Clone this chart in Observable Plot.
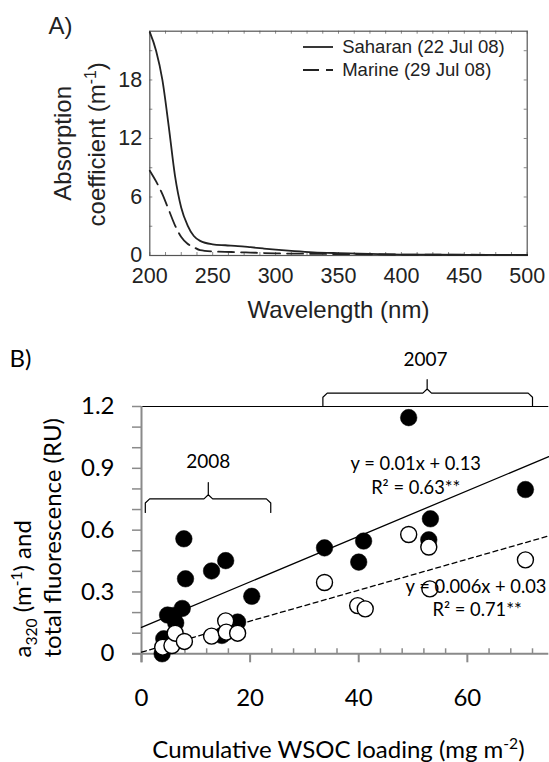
<!DOCTYPE html>
<html><head><meta charset="utf-8">
<script src="https://cdn.jsdelivr.net/npm/d3@7"></script>
<script src="https://cdn.jsdelivr.net/npm/@observablehq/plot@0.6"></script>
<style>
html,body{margin:0;padding:0;background:#fff;}
#chart{width:549px;height:762px;position:relative;overflow:hidden;background:#fff;}
#chart svg{display:block;max-width:none;}
</style></head><body><div id="chart"></div>
<script>
// ---------- Panel A data ----------
const wavelengthSah = [200,205,210,215,220,225,230,235,240,250,260,270,280,290,300,315,330,350,375,400,450,500];
const saharan       = [22.9,21.0,18.0,13.3,8.2,4.9,3.1,2.0,1.5,1.15,1.05,0.97,0.85,0.72,0.6,0.45,0.33,0.24,0.16,0.1,0.07,0.05];
const wavelengthMar = [200,205,210,215,220,225,230,235,240,250,265,280,300,325,350,400,450,500];
const marine        = [8.7,7.6,6.3,4.7,3.1,1.9,1.2,0.85,0.55,0.42,0.36,0.3,0.22,0.18,0.15,0.1,0.08,0.06];
const xTicksA = [200,250,300,350,400,450,500];
const yTicksA = [0,6,12,18];
const legendLabels = ["Saharan (22 Jul 08)", "Marine (29 Jul 08)"];

// ---------- Panel B data ----------
const wsocFilled = [3.8,4.1,4.8,5.9,6.3,7.5,7.8,8.1,12.9,14.8,15.5,17.7,20.3,33.7,40.0,40.9,49.2,52.9,53.2,70.7];
const a320       = [0.0,0.073,0.188,0.186,0.15,0.22,0.558,0.364,0.402,0.089,0.452,0.154,0.279,0.514,0.445,0.547,1.146,0.553,0.655,0.797];
const wsocOpen   = [3.9,5.6,6.2,7.9,12.9,15.5,15.6,17.7,33.7,39.8,41.2,49.2,52.9,53.1,70.7];
const fluor      = [0.032,0.04,0.1,0.06,0.086,0.16,0.105,0.1,0.346,0.234,0.218,0.579,0.518,0.315,0.456];
const fitSolidX = [0, 75], fitSolidY = [0.128, 0.957];
const fitDashX  = [0, 75], fitDashY  = [0.008, 0.572];
const xTicksB = [0,20,40,60];
const yTicksB = [0,0.3,0.6,0.9,1.2];
const yTickLabelsB = ["0","0.3","0.6","0.9","1.2"];
const years = [{x:12.3, y:0.93, t:"2008"}, {x:52.3, y:1.427, t:"2007"}];
const brace2008 = {x0:0.7, x1:23.8, xm:12.3, y:0.752, yEnd:0.686, yTip:0.831};
const brace2007 = {x0:33.4, x1:72.0, xm:52.6, y:1.265, yEnd:1.2, yTip:1.33};
const equations = [
  {x:50.5, y:0.922, t:"y = 0.01x + 0.13"},
  {x:50.5, y:0.802, t:"R² = 0.63**"},
  {x:61.6, y:0.323, t:"y = 0.006x + 0.03"},
  {x:61.8, y:0.21,  t:"R² = 0.71**"}
];

// ---------- helpers ----------
function rich(svg, key, parts, fs) {
  svg.querySelectorAll("text").forEach(t => {
    if (t.textContent !== key) return;
    t.textContent = "";
    let cur = 0;
    for (const [s, m] of parts) {
      const ts = document.createElementNS("http://www.w3.org/2000/svg", "tspan");
      const off = m === 1 ? -0.38 * fs : m === -1 ? 0.24 * fs : 0;
      ts.setAttribute("dy", (off - cur).toFixed(2));
      cur = off;
      if (m) ts.setAttribute("font-size", (0.65 * fs).toFixed(1));
      ts.textContent = s;
      t.appendChild(ts);
    }
  });
}
function bracePts(b, rx, ry) {
  return [[b.x0,b.yEnd],[b.x0,b.y-ry],[b.x0+rx,b.y],[b.xm-rx,b.y],[b.xm,b.y+ry],[b.xm,b.yTip],
          [b.xm,b.y+ry],[b.xm+rx,b.y],[b.x1-rx,b.y],[b.x1,b.y-ry],[b.x1,b.yEnd]];
}

const W = 549, hA = 325, hB = 437;
const fA = "'Liberation Sans', Arial, sans-serif";
const fB = "Lato, 'Open Sans', sans-serif";

// ---------- Panel A ----------
const mA = {l:149.3, r:22.3, t:30.7, b:70};
const pwA = W - mA.l - mA.r, phA = hA - mA.t - mA.b;
const sahData = wavelengthSah.map((w, i) => ({w, a: saharan[i]}));
const marData = wavelengthMar.map((w, i) => ({w, a: marine[i]}));
const xMinorA = d3.range(200, 500.1, 12.5);
const yMinorA = d3.range(0, 23, 3);
const txtA = {fontFamily: fA, fill: "#222", textAnchor: "middle", lineAnchor: "middle"};

const plotA = Plot.plot({
  width: W, height: hA,
  marginLeft: mA.l, marginRight: mA.r, marginTop: mA.t, marginBottom: mA.b,
  x: {domain: [200, 500], axis: null},
  y: {domain: [0, 23], axis: null},
  style: {fontFamily: fA, background: "white", overflow: "visible"},
  marks: [
    Plot.tickX(xMinorA, {x: d => d, stroke: "#888", insetTop: phA - 3}),
    Plot.tickX(xMinorA, {x: d => d, stroke: "#888", insetBottom: phA - 3}),
    Plot.tickY(yMinorA, {y: d => d, stroke: "#888", insetRight: pwA - 3}),
    Plot.tickY(yMinorA, {y: d => d, stroke: "#888", insetLeft: pwA - 3}),
    Plot.frame({stroke: "#555", strokeWidth: 1.2}),
    Plot.line(marData, {x: "w", y: "a", stroke: "#222", strokeWidth: 1.8, strokeDasharray: "16,7", curve: "monotone-x"}),
    Plot.line(sahData, {x: "w", y: "a", stroke: "#222", strokeWidth: 1.8, curve: "monotone-x"}),
    Plot.text(xTicksA, {...txtA, x: d => d, frameAnchor: "bottom", dy: 20.5, text: d => String(d), fontSize: 21.5}),
    Plot.text(yTicksA, {...txtA, y: d => d, frameAnchor: "left", dx: -7.6, textAnchor: "end", text: d => String(d), fontSize: 21.5}),
    Plot.text(["Wavelength (nm)"], {...txtA, frameAnchor: "bottom", dy: 55, text: d => d, fontSize: 24}),
    Plot.text(["Absorption"], {...txtA, frameAnchor: "left", dx: -86.3, rotate: -90, text: d => d, fontSize: 24}),
    Plot.text(["coefficient (m-1)"], {...txtA, frameAnchor: "left", dx: -52.3, dy: 1, rotate: -90, text: d => d, fontSize: 24}),
    Plot.text(["A)"], {...txtA, frameAnchor: "top-left", dx: -89.3, dy: -4.7, text: d => d, fontSize: 24}),
    Plot.text([legendLabels[0]], {...txtA, frameAnchor: "top-left", dx: 192.4, dy: 16.3, textAnchor: "start", text: d => d, fontSize: 18.5}),
    Plot.text([legendLabels[1]], {...txtA, frameAnchor: "top-left", dx: 192.4, dy: 39.3, textAnchor: "start", text: d => d, fontSize: 18.5})
  ]
});
rich(plotA, "coefficient (m-1)", [["coefficient (m",0],["-1",1],[")",0]], 24);
// legend sample lines (layout, relative to frame)
{
  const g = d3.select(plotA).append("g");
  [[16.3, null], [39.3, "16,7"]].forEach(([dy, dash]) => {
    const y = mA.t + dy;
    const l = g.append("line").attr("x1", mA.l + 153.7).attr("x2", mA.l + 183.7)
      .attr("y1", y).attr("y2", y).attr("stroke", "#222").attr("stroke-width", 1.8);
    if (dash) l.attr("stroke-dasharray", dash);
  });
}

// ---------- Panel B ----------
const mB = {l:141, r:0.7, t:81, b:108.7};
const pwB = W - mB.l - mB.r, phB = hB - mB.t - mB.b;
const filled = wsocFilled.map((x, i) => ({x, y: a320[i]}));
const open = wsocOpen.map((x, i) => ({x, y: fluor[i]}));
const solid = fitSolidX.map((x, i) => ({x, y: fitSolidY[i]}));
const dashed = fitDashX.map((x, i) => ({x, y: fitDashY[i]}));
const yMinorB = d3.range(0, 1.2001, 0.1);
const xMinorB = d3.range(4, 75, 4).filter(v => v % 20 !== 0);
const b08 = bracePts(brace2008, 0.8, 0.02).map(([x, y]) => ({x, y}));
const b07 = bracePts(brace2007, 0.8, 0.02).map(([x, y]) => ({x, y}));
const txtB = {fontFamily: fB, fill: "#000", textAnchor: "middle", lineAnchor: "middle"};
const gray = "#8a8a8a";

const plotB = Plot.plot({
  width: W, height: hB,
  marginLeft: mB.l, marginRight: mB.r, marginTop: mB.t, marginBottom: mB.b,
  x: {domain: [0, 75], axis: null},
  y: {domain: [0, 1.2], axis: null},
  style: {fontFamily: fB, background: "white", overflow: "visible"},
  marks: [
    Plot.ruleY([1.2], {stroke: "#000", strokeWidth: 1, insetLeft: -9}),
    Plot.tickY(yMinorB, {y: d => d, stroke: gray, strokeWidth: 1.5, insetLeft: -9, insetRight: pwB}),
    Plot.tickX(xMinorB, {x: d => d, stroke: gray, strokeWidth: 1.5, insetTop: phB - 5}),
    Plot.tickX(xTicksB, {x: d => d, stroke: gray, strokeWidth: 2, insetTop: phB, insetBottom: -9}),
    Plot.ruleX([0], {stroke: gray, strokeWidth: 2, insetBottom: -9}),
    Plot.ruleY([0], {stroke: gray, strokeWidth: 2, insetLeft: -9}),
    Plot.line(solid, {x: "x", y: "y", stroke: "#000", strokeWidth: 1.3}),
    Plot.line(dashed, {x: "x", y: "y", stroke: "#000", strokeWidth: 1.3, strokeDasharray: "5,3.5"}),
    Plot.dot(filled, {x: "x", y: "y", r: 8.3, fill: "#000", stroke: "#000", strokeWidth: 0.5}),
    Plot.dot(open, {x: "x", y: "y", r: 8, fill: "#fff", stroke: "#000", strokeWidth: 1.4}),
    Plot.line(b08, {x: "x", y: "y", stroke: "#000", strokeWidth: 1.2}),
    Plot.line(b07, {x: "x", y: "y", stroke: "#000", strokeWidth: 1.2}),
    Plot.text(years, {...txtB, x: "x", y: "y", text: "t", fontSize: 19}),
    Plot.text(equations, {...txtB, x: "x", y: "y", text: "t", fontSize: 18.3}),
    Plot.text(xTicksB, {...txtB, x: d => d, frameAnchor: "bottom", dy: 44.7, text: d => String(d), fontSize: 24}),
    Plot.text(yTicksB, {...txtB, y: d => d, frameAnchor: "left", dx: -27, textAnchor: "end", text: (d, i) => yTickLabelsB[i], fontSize: 24}),
    Plot.text(["Cumulative WSOC loading (mg m-2)"], {...txtB, frameAnchor: "bottom", dx: -6.7, dy: 96.7, text: d => d, fontSize: 24}),
    Plot.text(["a320 (m-1) and"], {...txtB, frameAnchor: "bottom-left", dx: -118, dy: 3.7, rotate: -90, textAnchor: "start", text: d => d, fontSize: 24}),
    Plot.text(["total fluorescence (RU)"], {...txtB, frameAnchor: "bottom-left", dx: -88, dy: 3.7, rotate: -90, textAnchor: "start", text: d => d, fontSize: 24}),
    Plot.text(["B)"], {...txtB, frameAnchor: "top-left", dx: -121, dy: -47, text: d => d, fontSize: 24})
  ]
});
rich(plotB, "a320 (m-1) and", [["a",0],["320",-1],[" (m",0],["-1",1],[") and",0]], 24);
rich(plotB, "Cumulative WSOC loading (mg m-2)", [["Cumulative WSOC loading (mg m",0],["-2",1],[")",0]], 24);

const root = document.getElementById("chart");
root.appendChild(plotA);
root.appendChild(plotB);
</script>
</body></html>
